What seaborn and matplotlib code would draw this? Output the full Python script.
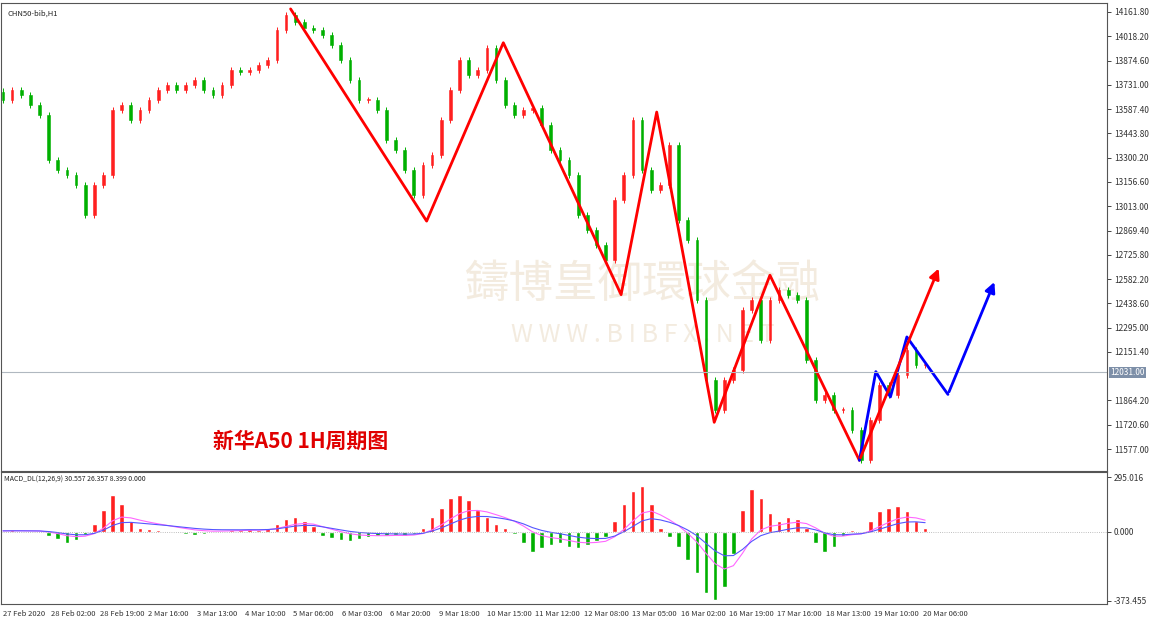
import numpy as np
import pandas as pd
import matplotlib
matplotlib.use("Agg")
import matplotlib.pyplot as plt
import seaborn as sns

sns.set_style("white")
plt.rcParams['font.family'] = ['Noto Sans CJK SC', 'DejaVu Sans']

# closes (one per bar)
close_px_y = [100, 90, 95, 105, 115, 160, 170, 175, 185, 215, 185, 175, 110, 105, 120, 110, 100, 90, 85, 90,
              85, 80, 90, 95, 85, 70, 72, 70, 65, 60, 30, 15, 22, 28, 30, 35, 45, 60, 80, 100,
              100, 110, 140, 150, 170, 195, 165, 155, 120, 90, 60, 75, 70, 48, 80, 105, 115, 110, 108, 125,
              150, 160, 175, 215, 230, 245, 260, 200, 175, 120, 170, 190, 185, 145, 220, 240, 300, 380, 410, 380,
              370, 310, 300, 340, 300, 290, 295, 300, 360, 400, 395, 410, 410, 430, 460, 420, 385, 395, 375, 350,
              365, 365]
closes = [round(14161.8 - (y - 12) * 5.916, 1) for y in close_px_y]
first_open = 13690.0

# MACD histogram (one per bar)
macd_hist = [5, 8, 5, 3, 2,
             -20, -40, -60, -45, -15,
             40, 120, 200, 150,
             60, 20, 15,
             10, 5, -5, -10, -15, -10, -5, 5, 10, 10, 15, 10, 20, 40,
             70, 80, 60, 30,
             -20, -35, -45, -50, -40, -30,
             -25, -20, -15, -20, -10, 20,
             80, 130, 180, 200, 170, 120,
             80, 40, 20, -10,
             -60, -110, -90, -70, -60, -80, -90, -70, -50, -30,
             60, 150, 220, 250, 150,
             20, -30, -80, -150, -220,
             -330, -370, -300,
             -120, 120, 230, 180, 100,
             60, 80, 70, 20,
             -60, -110, -80,
             -20, 10, 5,
             60, 110, 130, 140, 110, 60, 20]

tick_labels = ["27 Feb 2020", "28 Feb 02:00", "28 Feb 19:00", "2 Mar 16:00", "3 Mar 13:00", "4 Mar 10:00",
               "5 Mar 06:00", "6 Mar 03:00", "6 Mar 20:00", "9 Mar 18:00", "10 Mar 15:00", "11 Mar 12:00",
               "12 Mar 08:00", "13 Mar 05:00", "16 Mar 02:00", "16 Mar 19:00", "17 Mar 16:00", "18 Mar 13:00",
               "19 Mar 10:00", "20 Mar 06:00"]
price_ticks = [14161.80, 14018.20, 13874.60, 13731.00, 13587.40, 13443.80, 13300.20, 13156.60, 13013.00,
               12869.40, 12725.80, 12582.20, 12438.60, 12295.00, 12151.40, 11864.20, 11720.60, 11577.00]
current_price = 12031.00

# zigzag annotation points (bar index, price)
red_zz_x = [31.5, 46.4, 54.8, 67.7, 71.6, 77.9, 84.0, 93.8]
red_zz_p = [14180, 12925, 13980, 12490, 13570, 11735, 12605, 11510]
red_arrow = [(93.8, 11510), (102.6, 12660)]
blue_zz_x = [93.8, 95.6, 97.2, 99.0, 103.5]
blue_zz_p = [11510, 12035, 11885, 12240, 11900]
blue_arrow = [(103.5, 11900), (108.7, 12580)]

n = len(closes)
opens = [first_open] + closes[:-1]
idx = np.arange(n)
SP = 9.13

fig = plt.figure(figsize=(11.7, 6.18), dpi=100)
W, H = 1170, 618
ax = fig.add_axes([1 / W, 1 - 471 / H, 1106 / W, 468 / H])
ax2 = fig.add_axes([1 / W, 1 - 604 / H, 1106 / W, 132 / H])

def px2x(p):
    return (p - 3) / SP

xl = (px2x(1), px2x(1107))
up_c, dn_c = "#ff2020", "#00b000"
for i in idx:
    o, c = opens[i], closes[i]
    col = up_c if c >= o else dn_c
    lo, hi = min(o, c), max(o, c)
    ax.vlines(i, lo - 20, hi + 20, color=col, lw=0.7)
    ax.bar(i, max(hi - lo, 4), bottom=lo, width=0.3, color=col, edgecolor=col, lw=0.4)

ax.plot(red_zz_x, red_zz_p, color="red", lw=2)
ax.annotate("", xy=red_arrow[1], xytext=red_arrow[0],
            arrowprops=dict(arrowstyle="-|>", color="red", lw=2, mutation_scale=15))
ax.plot(blue_zz_x, blue_zz_p, color="blue", lw=2)
ax.annotate("", xy=blue_arrow[1], xytext=blue_arrow[0],
            arrowprops=dict(arrowstyle="-|>", color="blue", lw=2, mutation_scale=15))

ax.axhline(current_price, color="#b0b8c0", lw=0.8)
ax.set_xlim(*xl)
ax.set_ylim(11447, 14215)
ax.yaxis.tick_right()
ax.set_yticks(price_ticks)
ax.set_yticklabels([f"{v:.2f}" for v in price_ticks], fontsize=6, color="#333333")
ax.tick_params(axis="y", length=3, width=0.6, pad=2)
ax.set_xticks([])
ax.text(1.003, (current_price - 11447) / (14215 - 11447), f"{current_price:.2f}", transform=ax.transAxes,
        fontsize=6, color="white", va="center", ha="left",
        bbox=dict(boxstyle="square,pad=0.15", fc="#7d8fa8", ec="none"))
ax.text(0.006, 0.985, "CHN50-bib,H1", transform=ax.transAxes, fontsize=5.5, va="top", color="#222222")
ax.text(0.192, 0.04, "新华A50 1H周期图", transform=ax.transAxes, fontsize=15, color="#e00000",
        va="bottom", fontweight="bold")
ax.text(0.58, 0.4, "鑄博皇御環球金融", transform=ax.transAxes, fontsize=32, color="#e8d8c0",
        alpha=0.5, ha="center", va="center", zorder=0)
ax.text(0.58, 0.29, "W W W . B I B F X . N E T", transform=ax.transAxes, fontsize=18, color="#e8d8c0",
        alpha=0.5, ha="center", va="center", zorder=0)

# MACD
h = pd.Series(macd_hist, dtype=float)
line1 = h.ewm(span=8, adjust=False).mean()
line2 = h.ewm(span=14, adjust=False).mean()
cols = [up_c if v >= 0 else dn_c for v in h]
ax2.bar(idx, h, width=0.5, color=cols)
df = pd.DataFrame({"i": idx, "l1": line1.values, "l2": line2.values})
sns.lineplot(data=df, x="i", y="l1", ax=ax2, color="#ff66ff", lw=0.8)
sns.lineplot(data=df, x="i", y="l2", ax=ax2, color="#5555ff", lw=0.8)
ax2.axhline(0, color="#aaaaaa", lw=0.6, ls=":")
ax2.set_xlim(*xl)
ax2.set_ylim(-390, 323)
ax2.yaxis.tick_right()
ax2.set_yticks([295.016, 0.0, -373.455])
ax2.set_yticklabels(["295.016", "0.000", "-373.455"], fontsize=6, color="#333333")
ax2.tick_params(axis="y", length=3, width=0.6, pad=2)
ax2.set_xlabel(""); ax2.set_ylabel("")
tpos = [px2x(3 + 48.4 * k) for k in range(len(tick_labels))]
ax2.set_xticks(tpos)
ax2.set_xticklabels(tick_labels, fontsize=5.5, ha="left", color="#333333")
ax2.tick_params(axis="x", length=3, width=0.6, pad=1)
ax2.text(0.003, 0.97, "MACD_DL(12,26,9) 30.557 26.357 8.399 0.000", transform=ax2.transAxes,
         fontsize=5, va="top", color="#222222")
for a in (ax, ax2):
    for sp in a.spines.values():
        sp.set_color("#555555"); sp.set_linewidth(0.8)

fig.savefig("out.png", dpi=100, facecolor="white")
